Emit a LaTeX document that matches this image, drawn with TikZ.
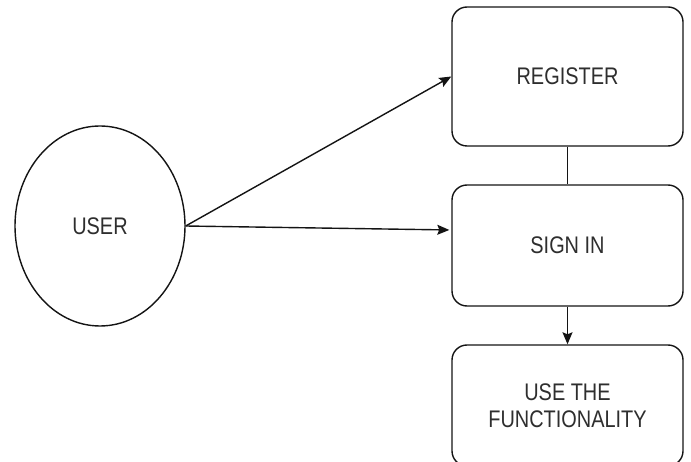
\documentclass[tikz,border=0pt]{standalone}
\usepackage{fontspec}
\setmainfont[FakeStretch=0.83]{Liberation Sans}
\usetikzlibrary{arrows.meta,shapes.geometric}
\definecolor{txt}{HTML}{2E2E2E}
\definecolor{ln}{HTML}{141414}
\tikzset{
  box/.style={draw=ln, line width=1.4pt, rounded corners=15pt, minimum width=231pt,
    text=txt, align=center, font=\fontsize{24}{27}\selectfont, inner sep=0pt},
  userell/.style={draw=ln, line width=1.4pt, ellipse, minimum width=170pt, minimum height=200pt,
    inner sep=0pt, text=txt, font=\fontsize{24}{27}\selectfont},
  conn/.style={draw=ln, line width=1.4pt},
  arr/.style={conn, -{Stealth[length=12pt,width=10pt,inset=2pt]}}
}
\begin{document}
\begin{tikzpicture}[x=1pt,y=-1pt]
\useasboundingbox (0,0) rectangle (691,462);
\clip (0,0) rectangle (691,462);
\fill[white] (0,0) rectangle (691,462);
\node[userell] (user) at (100,226) {USER};
\node[box, minimum height=139pt] (register) at (567.5,76.5) {REGISTER};
\node[box, minimum height=121pt] (signin) at (567.5,245.5) {SIGN IN};
\node[box, minimum height=121pt] (use) at (567.5,405.5) {USE THE\\FUNCTIONALITY};
\draw[arr] (user.east) -- (register.west);
\draw[arr, shorten >=2pt] (user.east) -- ([yshift=15.5pt]signin.west);
\draw[conn] (register.south) -- (signin.north);
\draw[arr] (signin.south) -- (use.north);
\end{tikzpicture}
\end{document}
